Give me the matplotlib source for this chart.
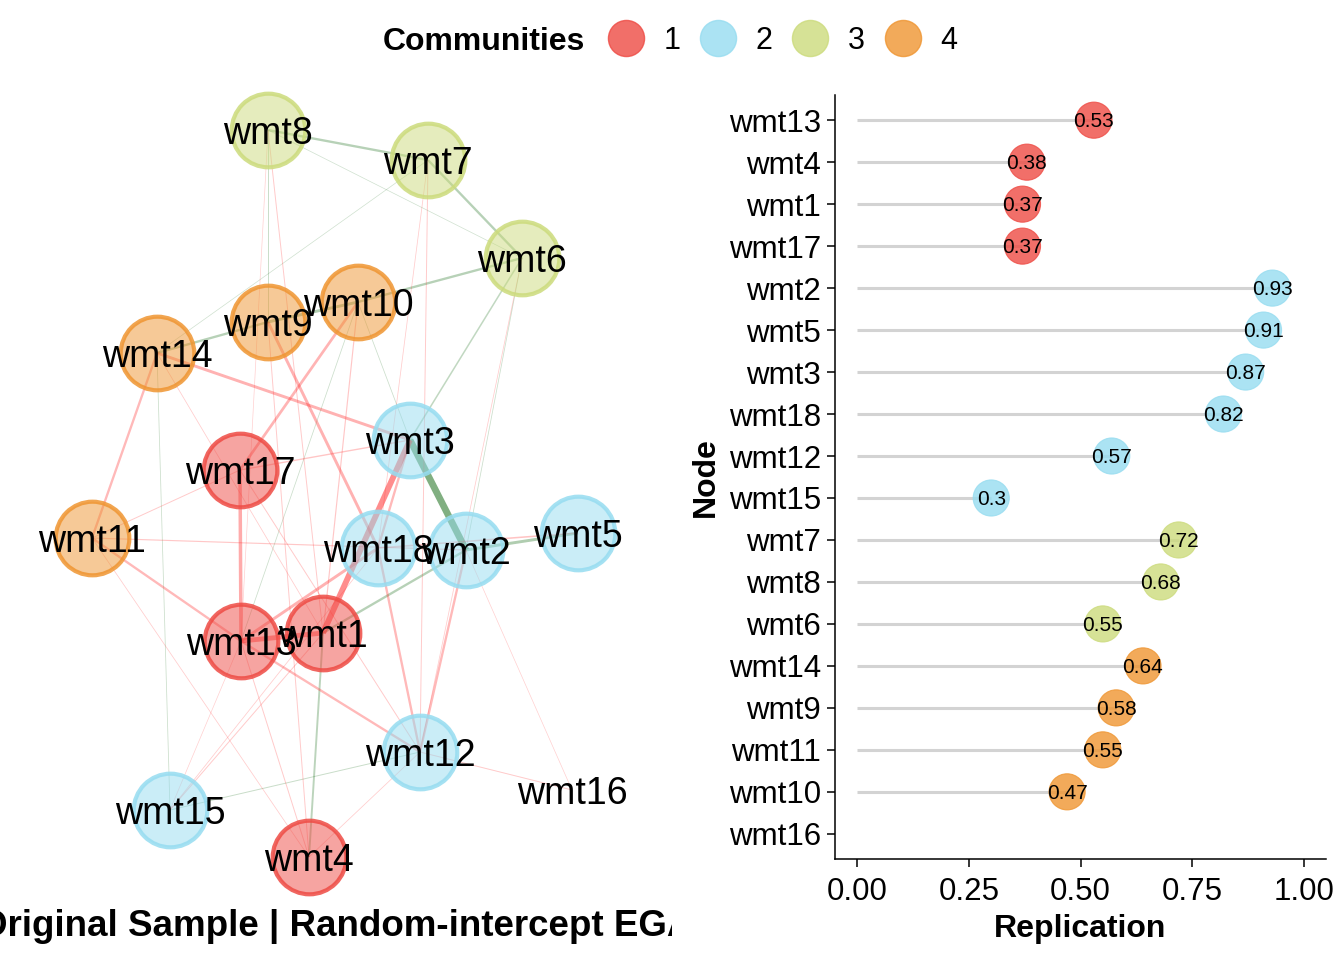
import matplotlib.pyplot as plt
import numpy as np
from matplotlib.lines import Line2D
from matplotlib.colors import to_rgba

plt.rcParams["font.family"] = ["Liberation Sans", "DejaVu Sans"]

# community colours (index 0 = no community)
comm_labels = ["1", "2", "3", "4"]
comm_colors = ["#EE4B44", "#96DCF0", "#CCDB7C", "#EF9531"]

# network layout, left panel (layout units, y grows downward)
node_names = ["wmt1", "wmt2", "wmt3", "wmt4", "wmt5", "wmt6", "wmt7", "wmt8", "wmt9",
              "wmt10", "wmt11", "wmt12", "wmt13", "wmt14", "wmt15", "wmt16", "wmt17", "wmt18"]
node_comm = [1, 2, 2, 1, 2, 3, 3, 3, 4, 4, 4, 2, 1, 4, 2, 0, 1, 2]
layout_x = [323, 466, 410, 309, 578, 522, 428, 268, 268, 358, 92, 420, 241, 157, 170, 572, 240, 378]
layout_y = [633, 550, 440, 857, 533, 258, 160, 130, 322, 302, 538, 752, 641, 353, 810, 790, 470, 548]

# edges: node numbers and signed partial correlations
edge_from = [8, 7, 10, 9, 9, 3, 2, 2, 1, 6, 8, 8, 7, 14, 12, 6, 10, 10,
             14, 14, 10, 9, 17, 17, 3, 3, 18, 18, 2, 13, 11, 11, 18, 13, 13, 12, 2,
             15, 15, 15, 12, 8, 8, 7, 7, 9, 11, 14, 6, 10, 17, 11]
edge_to = [7, 6, 6, 14, 10, 2, 5, 1, 4, 3, 9, 6, 14, 15, 15, 2, 3, 13,
           3, 11, 17, 18, 13, 3, 1, 18, 13, 12, 12, 12, 13, 2, 5, 1, 4, 16, 16,
           1, 18, 13, 4, 1, 13, 12, 18, 4, 4, 1, 12, 1, 12, 17]
edge_weight = [0.12, 0.12, 0.12, 0.12, 0.15, 0.35, 0.15, 0.12, 0.10, 0.08, 0.05, 0.03, 0.03, 0.04, 0.05, 0.04, 0.04, 0.04,
               -0.15, -0.12, -0.14, -0.15, -0.18, -0.07, -0.30, -0.12, -0.15, -0.12, -0.12, -0.12, -0.12, -0.06, -0.08,
               -0.25, -0.05, -0.05, -0.03, -0.05, -0.04, -0.03, -0.04, -0.05, -0.03, -0.05, -0.04, -0.05, -0.04,
               -0.04, -0.04, -0.06, -0.05, -0.05]

# replication results, right panel (top to bottom)
rep_nodes = ["wmt13", "wmt4", "wmt1", "wmt17", "wmt2", "wmt5", "wmt3", "wmt18", "wmt12",
             "wmt15", "wmt7", "wmt8", "wmt6", "wmt14", "wmt9", "wmt11", "wmt10", "wmt16"]
rep_values = [0.53, 0.38, 0.37, 0.37, 0.93, 0.91, 0.87, 0.82, 0.57,
              0.30, 0.72, 0.68, 0.55, 0.64, 0.58, 0.55, 0.47, np.nan]
rep_comm = [1, 1, 1, 1, 2, 2, 2, 2, 2, 2, 3, 3, 3, 4, 4, 4, 4, 0]

W, H = 1344, 960
fig = plt.figure(figsize=(W / 100, H / 100), dpi=100)

# ---- network panel ----
ax_net = fig.add_axes([0, 0, 672 / W, 1])
ax_net.set_xlim(0, 672)
ax_net.set_ylim(H, 0)
ax_net.axis("off")

lx = np.array(layout_x, dtype=float)
ly = np.array(layout_y, dtype=float)
for a, b, w in zip(edge_from, edge_to, edge_weight):
    col = "#1A6E1A" if w > 0 else "#FF2020"
    alpha = min(0.18 + abs(w) * 1.1, 0.55)
    ax_net.plot([lx[a - 1], lx[b - 1]], [ly[a - 1], ly[b - 1]], color=col,
                alpha=alpha, lw=max(abs(w) * 14, 0.5), solid_capstyle="butt", zorder=1)

for i, name in enumerate(node_names):
    c = node_comm[i]
    if c > 0:
        col = comm_colors[c - 1]
        ax_net.scatter(lx[i], ly[i], s=53 ** 2, facecolor=to_rgba(col, 0.5),
                       edgecolor=to_rgba(col, 0.85), linewidth=3, zorder=2)
for i, name in enumerate(node_names):
    ax_net.text(lx[i], ly[i] + 4, name, ha="center", va="center", fontsize=27, zorder=3)

ax_net.text(336, 927, "Original Sample | Random-intercept EGA", ha="center", va="center",
            fontsize=26.5, fontweight="bold", clip_on=True)

# ---- replication panel ----
ax = fig.add_axes([835 / W, 101 / H, 491 / W, 764 / H])
n = len(rep_nodes)
ypos = np.arange(n, 0, -1)
vals = np.array(rep_values, dtype=float)
ok = ~np.isnan(vals)
ax.hlines(ypos[ok], 0, vals[ok], color="#D3D3D3", lw=2.2, zorder=1)
dot_cols = [to_rgba(comm_colors[c - 1], 0.8) for c in np.array(rep_comm)[ok]]
ax.scatter(vals[ok], ypos[ok], s=26 ** 2, c=dot_cols, edgecolors=dot_cols, linewidths=0.8, zorder=2)
for v, y in zip(vals[ok], ypos[ok]):
    ax.text(v, y - 0.03, f"{v:g}", ha="center", va="center", fontsize=15, zorder=3)

ax.set_xlim(-0.05, 1.05)
ax.set_ylim(0.4, n + 0.6)
ax.set_xticks([0, 0.25, 0.5, 0.75, 1.0])
ax.set_xticklabels(["0.00", "0.25", "0.50", "0.75", "1.00"])
ax.set_yticks(ypos)
ax.set_yticklabels(rep_nodes)
ax.tick_params(labelsize=22.5, length=6, width=1.1, color="black", labelcolor="black", pad=4)
ax.tick_params(axis="x", pad=7)
for s in ["top", "right"]:
    ax.spines[s].set_visible(False)
for s in ["left", "bottom"]:
    ax.spines[s].set_linewidth(1.1)
ax.set_xlabel("Replication", fontsize=23, fontweight="bold", labelpad=5)
ax.set_ylabel("Node", fontsize=23, fontweight="bold", labelpad=6)

# ---- legend ----
fig.text(585 / W, 1 - 42 / H, "Communities", ha="right", va="center", fontsize=23, fontweight="bold")
handles = [Line2D([], [], ls="", marker="o", markersize=26,
                  markerfacecolor=to_rgba(c, 0.8), markeredgecolor=to_rgba(c, 0.8))
           for c in comm_colors]
fig.legend(handles, comm_labels, ncol=4, frameon=False, fontsize=22, loc="center left",
           bbox_to_anchor=(611 / W, 1 - 41 / H), borderpad=0, borderaxespad=0,
           handlelength=1.0, handletextpad=0.72, columnspacing=0.74)

fig.savefig("out.png", dpi=100)
